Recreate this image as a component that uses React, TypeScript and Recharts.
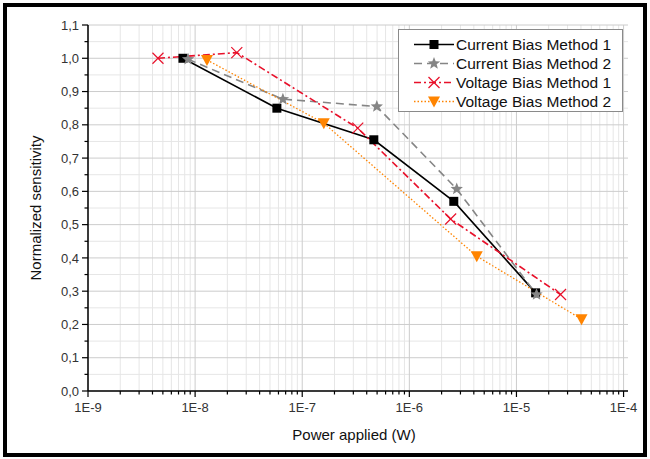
import { LineChart, Line, XAxis, YAxis, CartesianGrid, Legend } from "recharts";

// Power applied (W) and normalized sensitivity
const cb1Power = [7.7e-9, 5.8e-8, 4.66e-7, 2.6e-6, 1.51e-5];
const cb1Sens = [1.0, 0.85, 0.755, 0.57, 0.295];

const cb2Power = [8.6e-9, 6.6e-8, 4.97e-7, 2.77e-6, 1.54e-5];
const cb2Sens = [0.997, 0.877, 0.855, 0.607, 0.29];

const vb1Power = [4.5e-9, 2.45e-8, 3.3e-7, 2.43e-6, 2.58e-5];
const vb1Sens = [1.0, 1.017, 0.79, 0.517, 0.29];

const vb2Power = [1.29e-8, 1.59e-7, 4.26e-6, 4.05e-5];
const vb2Sens = [0.995, 0.805, 0.405, 0.216];

const decadeTicks = [1e-9, 1e-8, 1e-7, 1e-6, 1e-5, 1e-4];
const decadeLabels = ["1E-9", "1E-8", "1E-7", "1E-6", "1E-5", "1E-4"];
const minorMultipliers = [2, 3, 4, 5, 6, 7, 8, 9];
const minorPowerTicks = decadeTicks.slice(0, 5).flatMap((d) => minorMultipliers.map((m) => m * d));

const yMajorTicks = [0, 0.1, 0.2, 0.3, 0.4, 0.5, 0.6, 0.7, 0.8, 0.9, 1.0, 1.1];
const yMinorTicks = [0.05, 0.15, 0.25, 0.35, 0.45, 0.55, 0.65, 0.75, 0.85, 0.95, 1.05];

const toPoints = (power: number[], sens: number[]) =>
  power.map((p, i) => ({ power: p, sens: sens[i] }));

const FONT = "'Liberation Sans', Arial, sans-serif";
const RED = "#e8102a";
const ORANGE = "#ff8400";
const GRAY = "#858585";

type Shape = "square" | "star" | "cross" | "triangle";

const Marker = ({ cx, cy, shape, color }: { cx: number; cy: number; shape: Shape; color: string }) => {
  if (shape === "square") {
    return <rect x={cx - 4.5} y={cy - 4.5} width={9} height={9} fill={color} />;
  }
  if (shape === "star") {
    const pts: string[] = [];
    for (let i = 0; i < 10; i++) {
      const r = i % 2 === 0 ? 6.5 : 2.8;
      const a = (Math.PI / 5) * i - Math.PI / 2;
      pts.push(`${cx + r * Math.cos(a)},${cy + r * Math.sin(a)}`);
    }
    return <polygon points={pts.join(" ")} fill={color} />;
  }
  if (shape === "cross") {
    return (
      <g stroke={color} strokeWidth={1.2}>
        <line x1={cx - 5.5} y1={cy - 5.5} x2={cx + 5.5} y2={cy + 5.5} />
        <line x1={cx - 5.5} y1={cy + 5.5} x2={cx + 5.5} y2={cy - 5.5} />
      </g>
    );
  }
  return <polygon points={`${cx - 6},${cy - 5} ${cx + 6},${cy - 5} ${cx},${cy + 6}`} fill={color} />;
};

const series = [
  { name: "Current Bias Method 1", data: toPoints(cb1Power, cb1Sens), color: "#000000", dash: undefined, width: 1.6, shape: "square" as Shape },
  { name: "Current Bias Method 2", data: toPoints(cb2Power, cb2Sens), color: GRAY, dash: "8 5", width: 1.6, shape: "star" as Shape },
  { name: "Voltage Bias Method 1", data: toPoints(vb1Power, vb1Sens), color: RED, dash: "7 3 2 3", width: 1.6, shape: "cross" as Shape },
  { name: "Voltage Bias Method 2", data: toPoints(vb2Power, vb2Sens), color: ORANGE, dash: "1.5 2", width: 1.3, shape: "triangle" as Shape },
];

const XTick = (props: any) => {
  const { x, y, payload } = props;
  const idx = decadeTicks.indexOf(payload.value);
  const major = idx >= 0;
  return (
    <g>
      <line x1={x} y1={y} x2={x} y2={y + (major ? 6 : 3.5)} stroke="#000" strokeWidth={1.2} />
      {major && (
        <text x={x} y={y + 21} textAnchor="middle" fontSize={13} fill="#333" fontFamily={FONT}>
          {decadeLabels[idx]}
        </text>
      )}
    </g>
  );
};

const YTick = (props: any) => {
  const { x, y, payload } = props;
  const major = yMajorTicks.includes(payload.value);
  return (
    <g>
      <line x1={x} y1={y} x2={x - (major ? 6 : 3.5)} y2={y} stroke="#000" strokeWidth={1.2} />
      {major && (
        <text x={x - 9} y={y} dy="0.36em" textAnchor="end" fontSize={13} fill="#333" fontFamily={FONT}>
          {payload.value.toFixed(1).replace(".", ",")}
        </text>
      )}
    </g>
  );
};

const LegendBox = () => (
  <div
    style={{
      width: 225,
      height: 83,
      boxSizing: "border-box",
      border: "1px solid #8a8a8a",
      background: "#fff",
      fontFamily: FONT,
      fontSize: 15.5,
      color: "#111",
      paddingTop: 5,
    }}
  >
    {series.map((s) => (
      <div key={s.name} style={{ display: "flex", alignItems: "center", height: 19 }}>
        <svg width={57} height={19} style={{ flexShrink: 0 }}>
          <line x1={15} y1={9.5} x2={55} y2={9.5} stroke={s.color} strokeWidth={s.width} strokeDasharray={s.dash} />
          <Marker cx={35} cy={9.5} shape={s.shape} color={s.color} />
        </svg>
        <span style={{ lineHeight: "19px" }}>{s.name}</span>
      </div>
    ))}
  </div>
);

const App = () => {
  return (
    <div style={{ position: "absolute", left: 0, top: 0, width: 650, height: 459, background: "#fff" }}>
      <div
        style={{
          position: "absolute",
          left: 3,
          top: 3,
          width: 644,
          height: 454,
          boxSizing: "border-box",
          border: "4px solid #000",
        }}
      />
      <LineChart width={650} height={459} margin={{ top: 25, right: 22, left: 0, bottom: 0 }}>
        <CartesianGrid
          stroke="#e6e6e6"
          strokeWidth={1}
          verticalValues={minorPowerTicks}
          horizontalValues={yMinorTicks}
        />
        <CartesianGrid
          stroke="#cccccc"
          strokeWidth={1}
          verticalValues={decadeTicks}
          horizontalValues={yMajorTicks}
        />
        <XAxis
          dataKey="power"
          type="number"
          scale="log"
          domain={[1e-9, 1.1e-4]}
          ticks={[...decadeTicks, ...minorPowerTicks].sort((a, b) => a - b)}
          interval={0}
          allowDataOverflow
          height={68}
          tickSize={0}
          tickMargin={0}
          tickLine={false}
          tick={<XTick />}
          axisLine={{ stroke: "#000", strokeWidth: 1.5 }}
          label={{
            value: "Power applied (W)",
            position: "insideBottom",
            offset: 19,
            dx: -4,
            style: { fontSize: 15, fill: "#111", fontFamily: FONT },
          }}
        />
        <YAxis
          dataKey="sens"
          type="number"
          domain={[0, 1.1]}
          ticks={[...yMajorTicks, ...yMinorTicks].sort((a, b) => a - b)}
          interval={0}
          allowDataOverflow
          width={88}
          tickSize={0}
          tickMargin={0}
          tickLine={false}
          tick={<YTick />}
          axisLine={{ stroke: "#000", strokeWidth: 1.5 }}
          label={{
            value: "Normalized sensitivity",
            angle: -90,
            position: "insideLeft",
            offset: 36,
            style: { fontSize: 15, fill: "#111", fontFamily: FONT, textAnchor: "middle" },
          }}
        />
        <Legend
          layout="vertical"
          align="center"
          verticalAlign="middle"
          content={() => <LegendBox />}
          wrapperStyle={{ left: 398, top: 29, width: 225, height: 83 }}
        />
        {series.map((s) => (
          <Line
            key={s.name}
            data={s.data}
            dataKey="sens"
            name={s.name}
            type="linear"
            stroke={s.color}
            strokeWidth={s.width}
            strokeDasharray={s.dash}
            isAnimationActive={false}
            dot={(p: any) => <Marker key={`${s.name}-${p.index}`} cx={p.cx} cy={p.cy} shape={s.shape} color={s.color} />}
            activeDot={false}
          />
        ))}
      </LineChart>
    </div>
  );
};

export default App;
